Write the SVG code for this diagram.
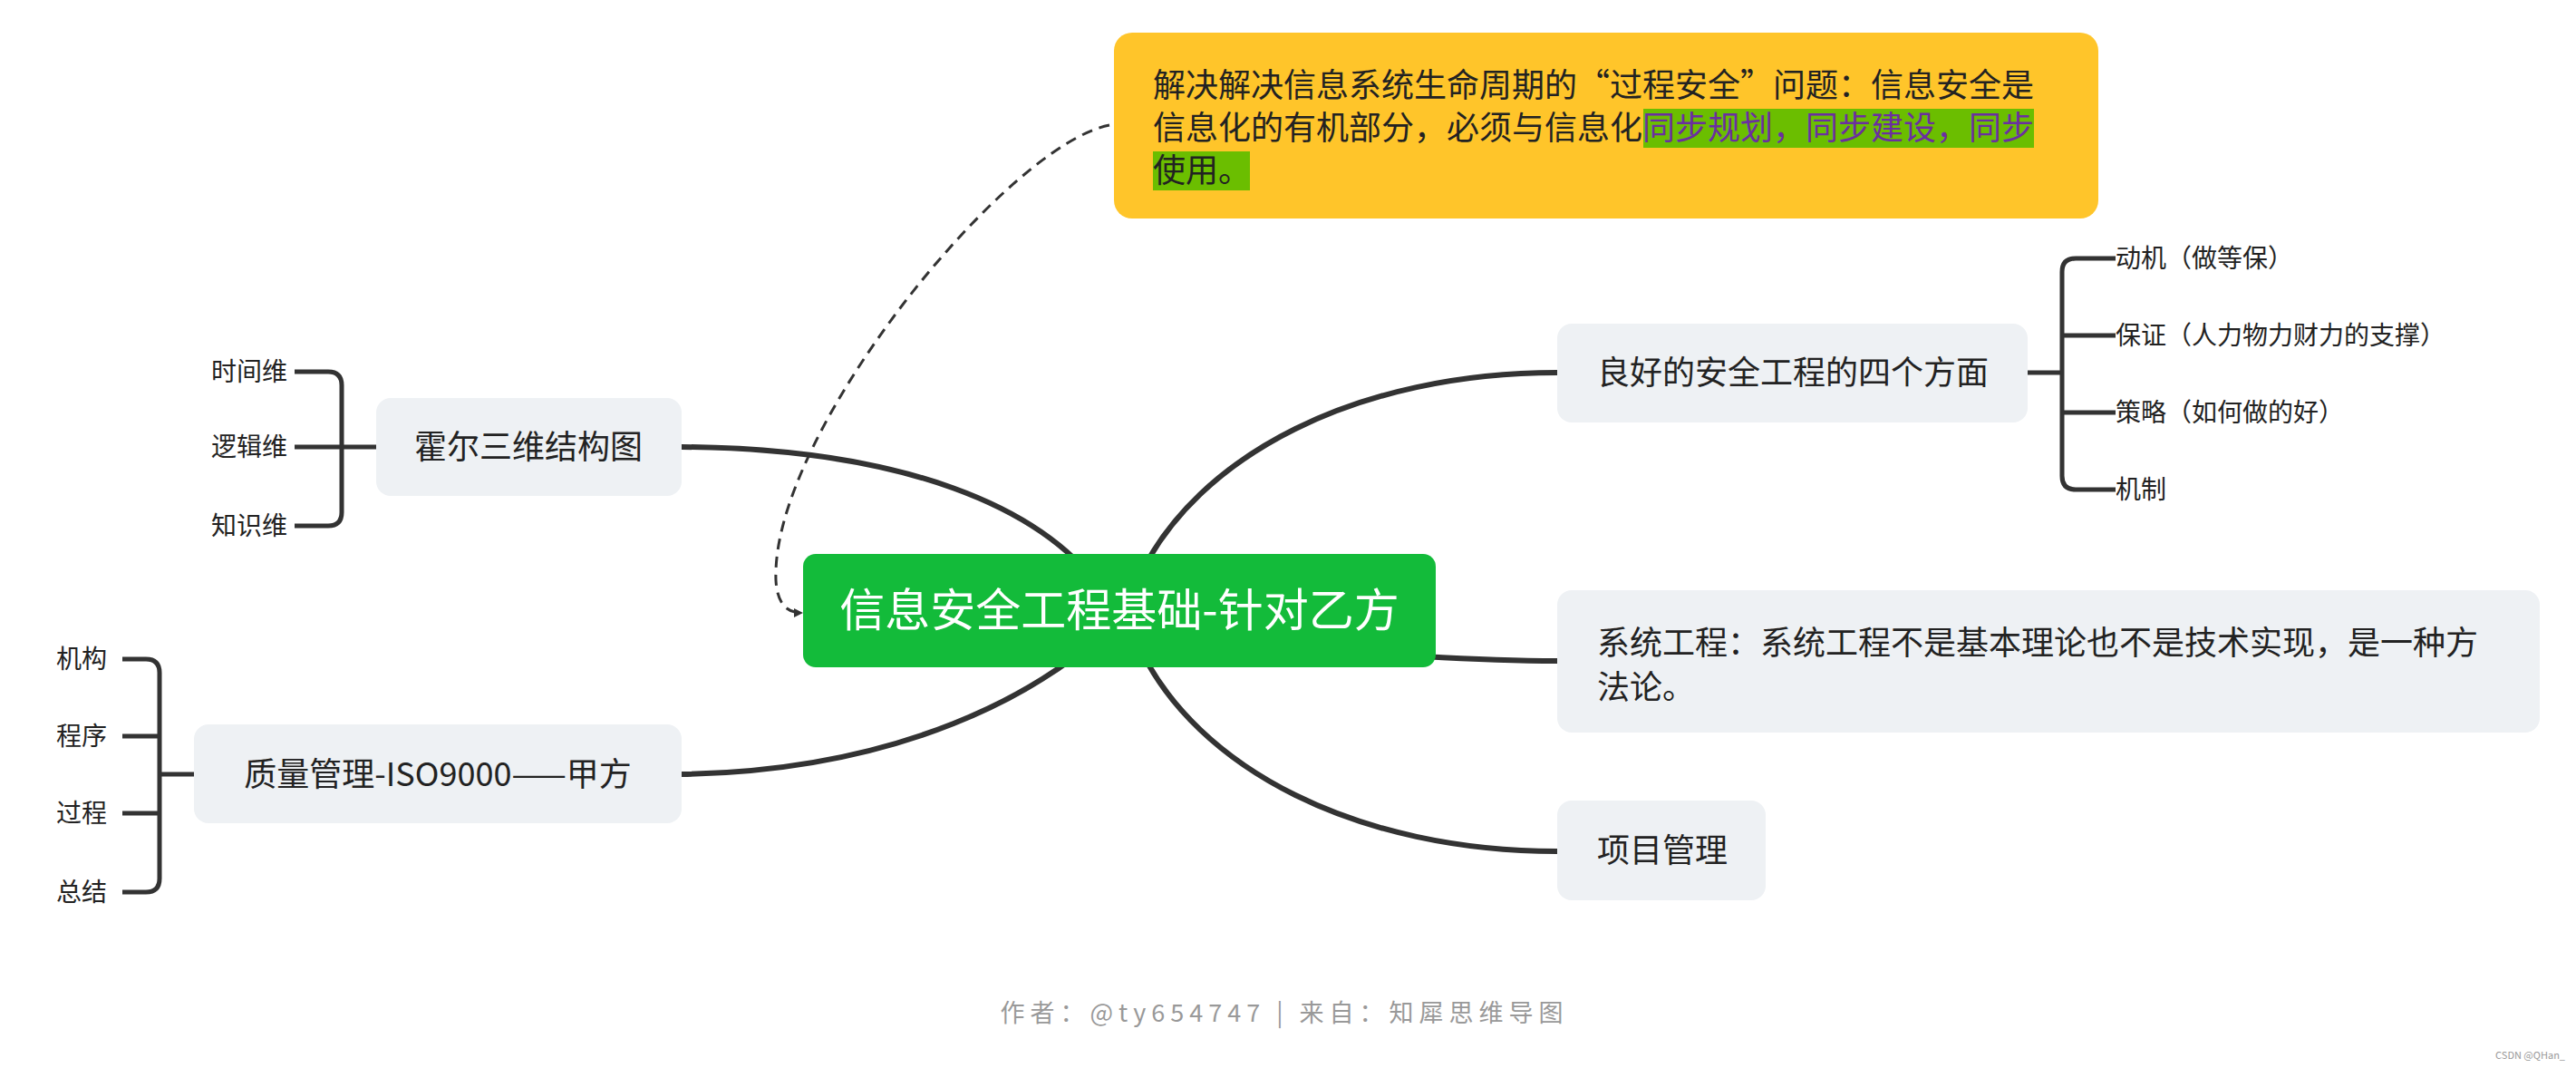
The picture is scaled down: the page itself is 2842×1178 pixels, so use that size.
<svg xmlns="http://www.w3.org/2000/svg" width="2842" height="1178" viewBox="0 0 2842 1178">
<style>
text{font-family:"Noto Sans CJK SC","Noto Sans",sans-serif;fill:#222}
.n{fill:#EEF1F4}
.t{font-size:36px}
.s{font-size:28px}
.c{fill:none;stroke:#333;stroke-width:6;stroke-linecap:round}
.b{fill:none;stroke:#333;stroke-width:5}
</style>
<defs><marker id="ah" markerWidth="10" markerHeight="10" refX="8" refY="5" orient="auto" markerUnits="userSpaceOnUse"><path d="M0,0 L10,5 L0,10 Z" fill="#333"/></marker></defs>
<rect width="2842" height="1178" fill="#fff"/>
<g id="connectors">
<path class="c" d="M752,493 C1000,495 1150,560 1215,650"/>
<path class="c" d="M752,854 C1000,850 1150,760 1215,700"/>
<path class="c" d="M1255,640 C1320,500 1500,411 1718,411"/>
<path class="c" d="M1255,710 C1320,850 1500,939 1718,939"/>
<path class="c" d="M1570,724 C1640,728 1680,729 1718,729"/>
<path fill="none" stroke="#333" stroke-width="3" stroke-dasharray="12,8" d="M1224,138 C1110,160 850,480 856,640 Q858,676 884,676" marker-end="url(#ah)"/>
<path class="b" d="M2237,411 H2275 M2334,285 H2290 Q2275,285 2275,300 V525 Q2275,540 2290,540 H2334 M2275,370 H2334 M2275,455 H2334"/>
<path class="b" d="M415,493 H377 M325,410 H362 Q377,410 377,425 V565 Q377,580 362,580 H325 M325,493 H377"/>
<path class="b" d="M214,854 H176 M135,727 H161 Q176,727 176,742 V969 Q176,984 161,984 H135 M135,812 H176 M135,897 H176"/>
</g>
<g id="note">
<rect x="1229" y="36" width="1086" height="205" rx="20" fill="#FFC52A"/>
<rect x="1813" y="120" width="431" height="43" fill="#6BBE00"/>
<rect x="1272" y="167" width="107" height="43" fill="#6BBE00"/>
<text class="t" x="1272" y="107" fill="#333">解决解决信息系统生命周期的“过程安全”问题：信息安全是</text>
<text class="t" x="1272" y="154">信息化的有机部分，必须与信息化<tspan fill="#6B2FA0">同步规划，同步建设，同步</tspan></text>
<text class="t" x="1272" y="201" fill="#6B2FA0">使用。</text>
</g>
<g id="root">
<rect x="886" y="611" width="698" height="125" rx="14" fill="#13BB3A"/>
<text x="1235" y="691" text-anchor="middle" font-size="50" style="fill:#fff">信息安全工程基础-针对乙方</text>
</g>
<g id="n-good">
<rect class="n" x="1718" y="357" width="519" height="109" rx="16"/>
<text class="t" x="1762" y="424">良好的安全工程的四个方面</text>
</g>
<g id="n-good-kids">
<text class="s" x="2334" y="295">动机（做等保）</text>
<text class="s" x="2334" y="380">保证（人力物力财力的支撑）</text>
<text class="s" x="2334" y="465">策略（如何做的好）</text>
<text class="s" x="2334" y="550">机制</text>
</g>
<g id="n-sys">
<rect class="n" x="1718" y="651" width="1084" height="157" rx="16"/>
<text class="t" x="1762" y="722">系统工程：系统工程不是基本理论也不是技术实现，是一种方</text>
<text class="t" x="1762" y="771">法论。</text>
</g>
<g id="n-proj">
<rect class="n" x="1718" y="883" width="230" height="110" rx="16"/>
<text class="t" x="1762" y="951">项目管理</text>
</g>
<g id="n-hall">
<rect class="n" x="415" y="439" width="337" height="108" rx="16"/>
<text class="t" x="583" y="506" text-anchor="middle">霍尔三维结构图</text>
<text class="s" x="317" y="420" text-anchor="end">时间维</text>
<text class="s" x="317" y="503" text-anchor="end">逻辑维</text>
<text class="s" x="317" y="590" text-anchor="end">知识维</text>
</g>
<g id="n-iso">
<rect class="n" x="214" y="799" width="538" height="109" rx="16"/>
<text class="t" x="483" y="867" text-anchor="middle">质量管理-ISO9000——甲方</text>
<text class="s" x="118" y="737" text-anchor="end">机构</text>
<text class="s" x="118" y="822" text-anchor="end">程序</text>
<text class="s" x="118" y="907" text-anchor="end">过程</text>
<text class="s" x="118" y="994" text-anchor="end">总结</text>
</g>
<text x="1417" y="1127" text-anchor="middle" font-size="27" letter-spacing="6" style="fill:#999">作者：@ty654747 | 来自：知犀思维导图</text>
<text x="2830" y="1168" text-anchor="end" font-size="11" style="fill:#999">CSDN @QHan_</text>
</svg>
